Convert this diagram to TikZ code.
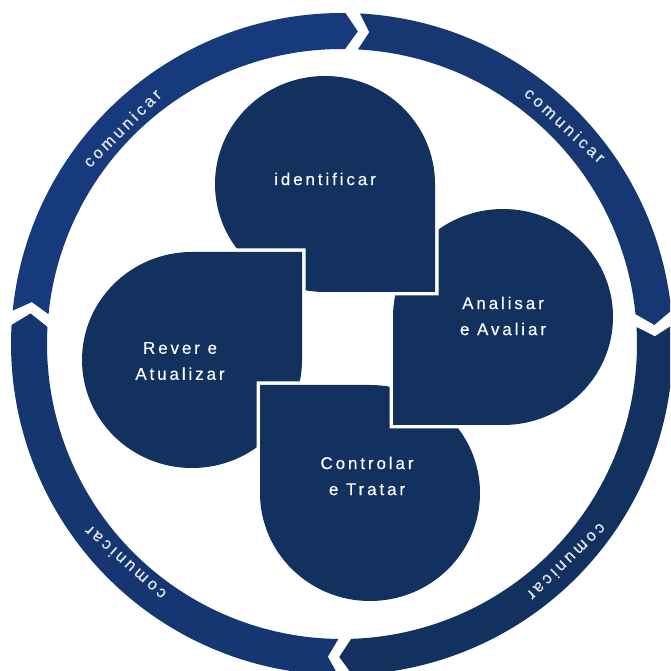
\documentclass[tikz,border=0pt]{standalone}
\usepackage{fontspec}
\setmainfont{Liberation Sans}
\newfontfamily\blobfont[LetterSpace=17,FakeBold=0.3]{Liberation Sans}
\newfontfamily\ringfont[LetterSpace=20,FakeBold=0.4]{Liberation Sans}
\definecolor{blobblue}{HTML}{12315F}
\definecolor{ringA}{HTML}{173A7C}
\definecolor{ringB}{HTML}{163772}
\definecolor{ringC}{HTML}{12315F}
\definecolor{ringD}{HTML}{153670}
\tikzset{
  blob/.style={fill=blobblue,preaction={draw=white,line width=7pt,line join=miter}},
  blobtext/.style={text=white,align=center,font=\blobfont\fontsize{17}{26}\selectfont,inner sep=0pt},
  ringtext/.style={text=white!88!blobblue,font=\ringfont\fontsize{16.5}{18}\selectfont,inner sep=0pt}
}
% tail angle, tip angle (degrees clockwise from the top), colour
\newcommand\ringpiece[3]{%
  \pgfmathsetmacro\ta{90-#1}%
  \pgfmathsetmacro\tb{90-#2+2.3}%
  \pgfmathsetmacro\tip{90-#2}%
  \pgfmathsetmacro\notch{90-#1-1.9}%
  \fill[#3] (\ta:331pt) arc[start angle=\ta,end angle=\tb,radius=331pt]
    -- (\tip:313pt) -- (\tb:295pt)
    arc[start angle=\tb,end angle=\ta,radius=295pt]
    -- (\notch:313pt) -- cycle;}
\newcommand\reverpath{(192,419) arc[start angle=90,end angle=360,x radius=110pt,y radius=108pt] -- (302,419) -- cycle}
\begin{document}
\begin{tikzpicture}[x=1pt,y=1pt]
\useasboundingbox (0,0) rectangle (670,671);
\clip (0,0) rectangle (670,671);
\fill[white] (0,0) rectangle (670,671);
% ring
\begin{scope}[shift={(342,327)}]
  \ringpiece{-84.2}{2.9}{ringA}
  \ringpiece{3.1}{86.5}{ringB}
  \ringpiece{86.7}{180.5}{ringC}
  \ringpiece{180.7}{275.6}{ringD}
\end{scope}
% petals: each overlaps the next with a white gap
\path[blob] \reverpath;
\path[blob] (260,178) arc[start angle=180,end angle=450,x radius=110pt,y radius=108pt] -- (260,286) -- cycle;
\path[blob] (503,246) arc[start angle=270,end angle=540,x radius=110pt,y radius=108pt] -- (393,246) -- cycle;
\path[blob] (435,487) arc[start angle=0,end angle=270,x radius=110pt,y radius=108pt] -- (435,379) -- cycle;
\begin{scope}
  \clip (200,340) rectangle (320,470);
  \path[blob] \reverpath;
\end{scope}
% labels
\node[blobtext] (identificar) at (325,492) {identificar};
\node[blobtext] (rever) at (180,310) {Rever e\\Atualizar};
\node[blobtext] (analisar) at (503,355) {Analisar\\e Avaliar};
\node[blobtext] (controlar) at (367,195) {Controlar\\e Tratar};
\node[ringtext,rotate=45] (comA) at (122,543) {comunicar};
\node[ringtext,rotate=-42.5] (comB) at (565,546) {comunicar};
\node[ringtext,rotate=-136] (comC) at (567,109) {comunicar};
\node[ringtext,rotate=138.5] (comD) at (125,108) {comunicar};
\end{tikzpicture}
\end{document}
